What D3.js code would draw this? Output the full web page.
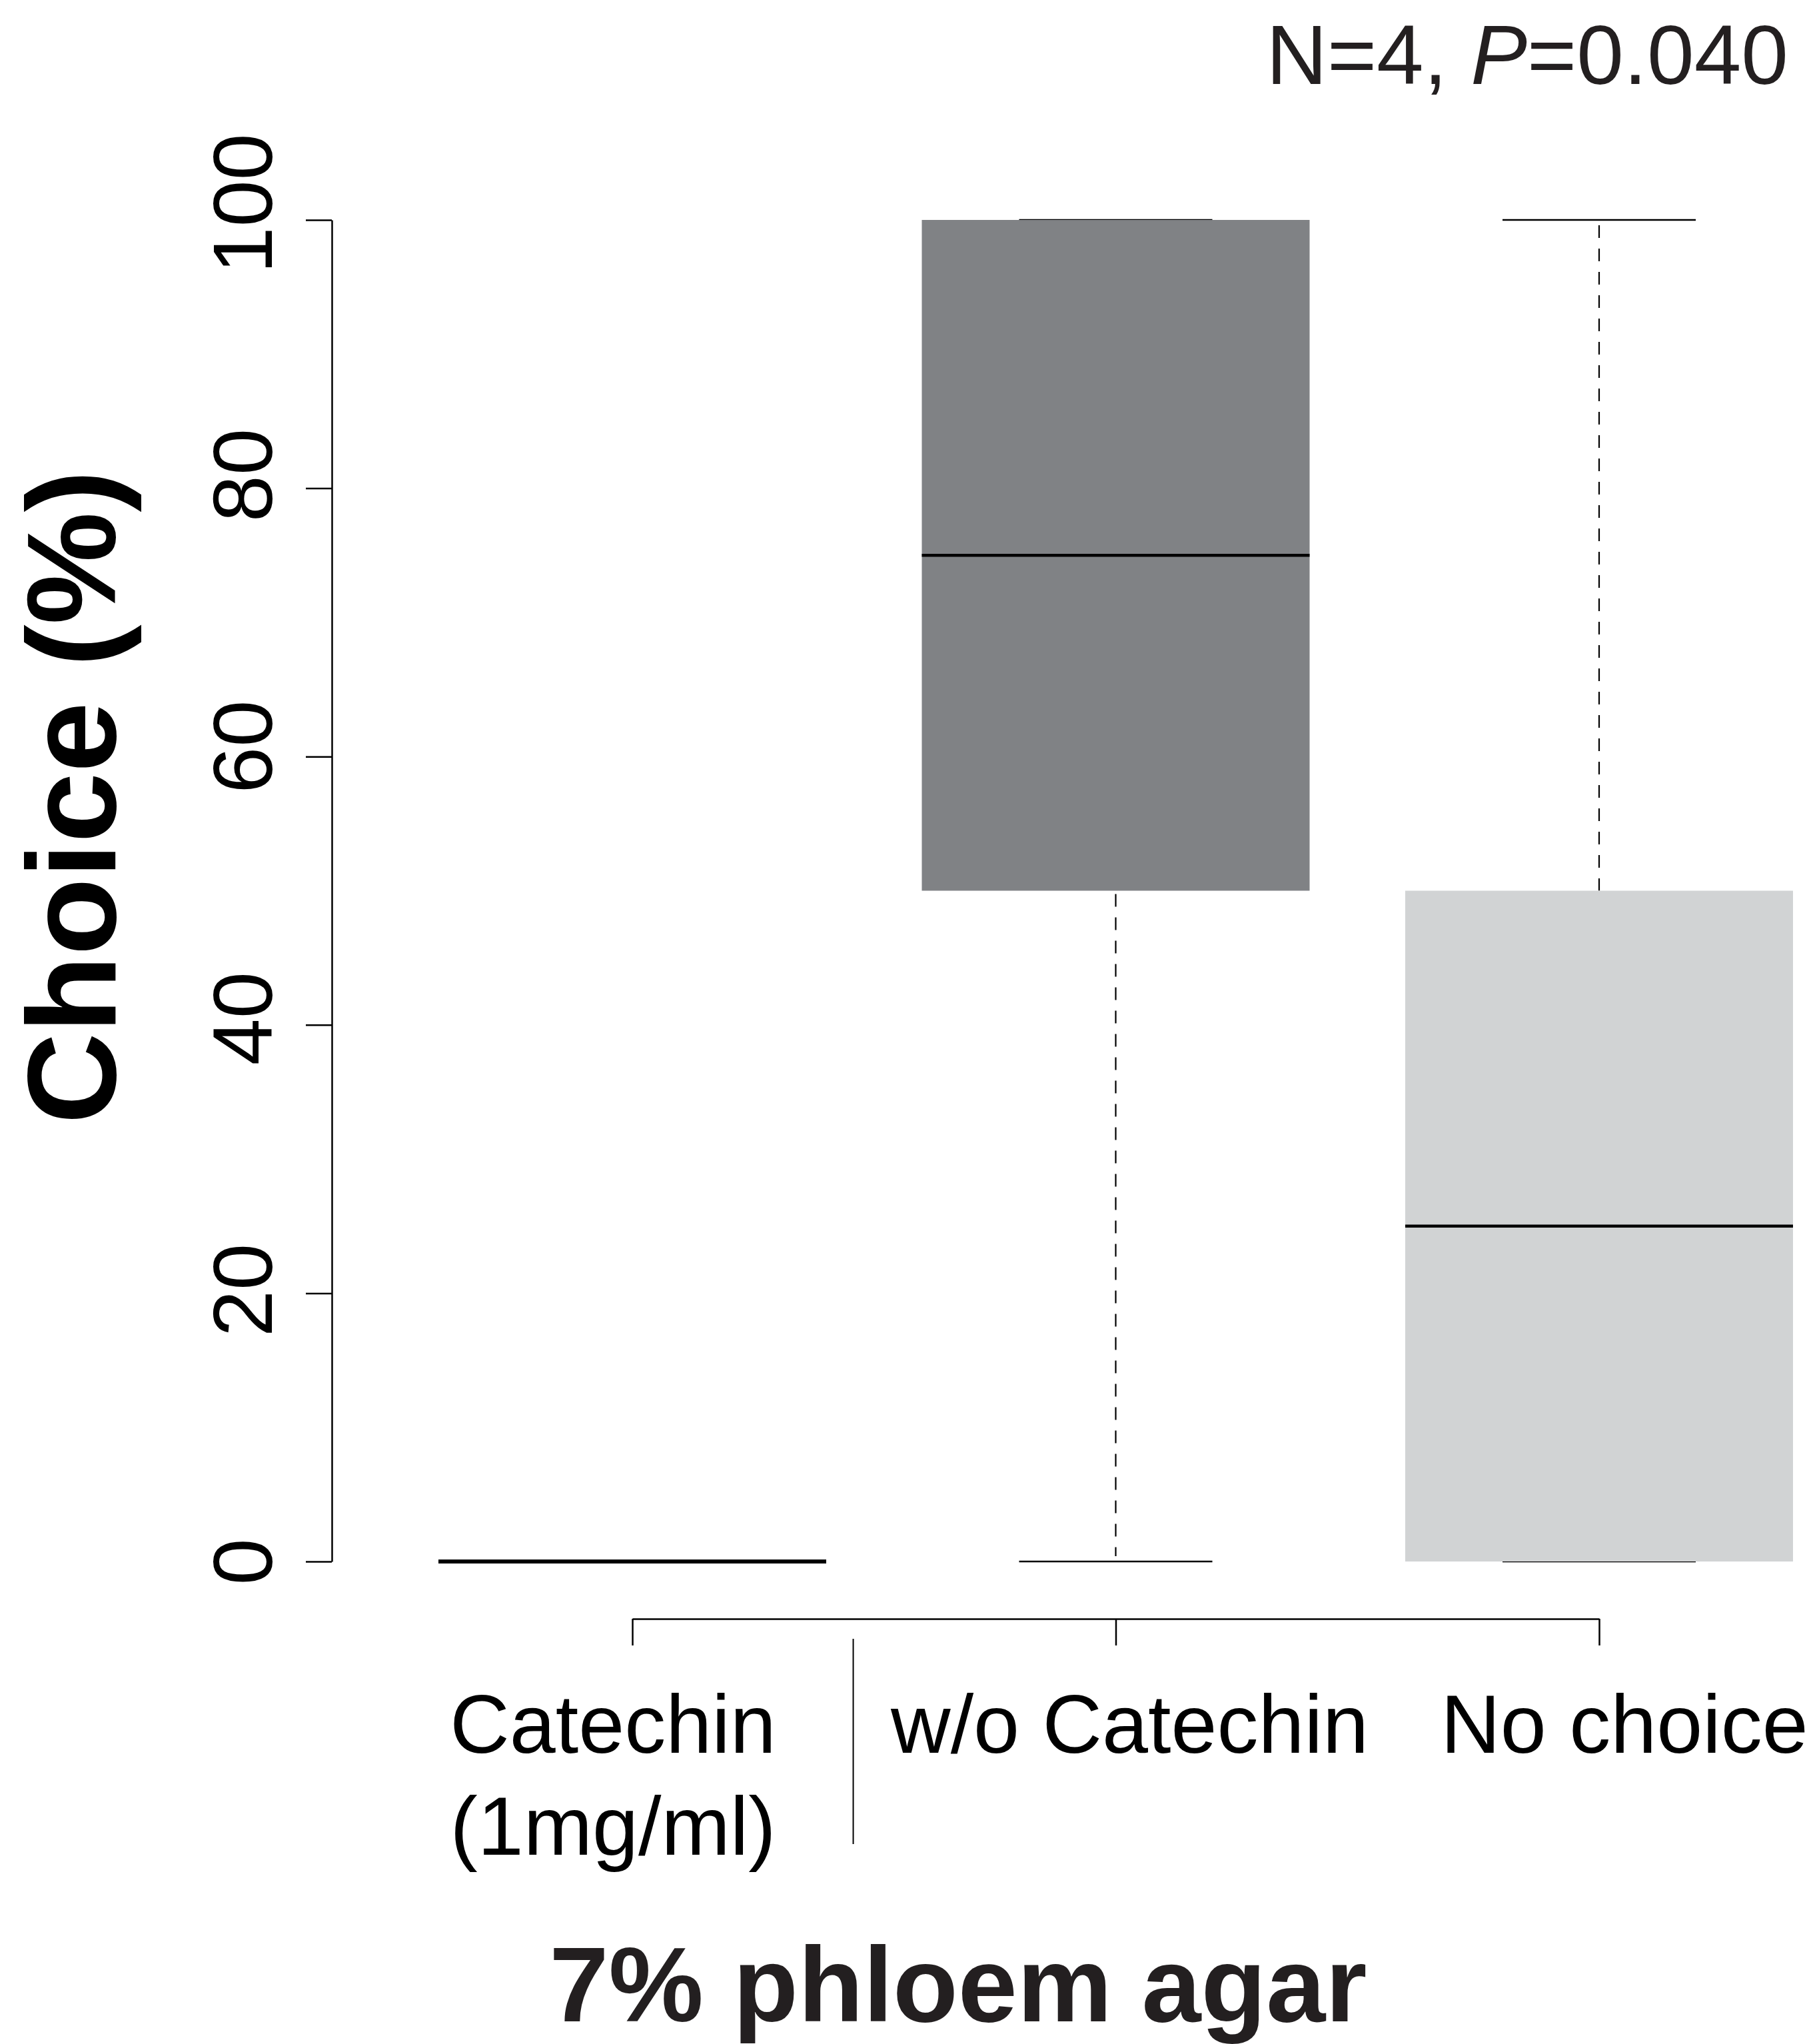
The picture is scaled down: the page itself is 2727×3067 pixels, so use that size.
<!DOCTYPE html>
<html>
<head>
<meta charset="utf-8">
<script src="https://cdn.jsdelivr.net/npm/d3@7"></script>
<style>
  html, body { margin: 0; padding: 0; background: #ffffff; }
  svg { display: block; }
  text { font-family: "Liberation Sans", Arial, Helvetica, sans-serif; fill: #231f20; }
</style>
</head>
<body>
<script>
// ---- data ----
const categories = ["Catechin (1mg/ml)", "w/o Catechin", "No choice"];
const labelLines = [["Catechin", "(1mg/ml)"], ["w/o Catechin"], ["No choice"]];
const whiskerLow = [0, 0, 0];
const q1 = [0, 50, 0];
const median = [0, 75, 25];
const q3 = [0, 100, 50];
const whiskerHigh = [0, 100, 100];
const yTicks = [0, 20, 40, 60, 80, 100];
const yTitle = "Choice (%)";
const xTitle = "7% phloem agar";

// ---- layout ----
const W = 2727, H = 3067;
const fills = ["#808285", "#808285", "#d1d3d4"];
const labelNudge = [-29, 21, 38];

const svg = d3.select("body").append("svg")
  .attr("width", W).attr("height", H)
  .attr("viewBox", `0 0 ${W} ${H}`);

const y = d3.scaleLinear().domain([0, 100]).range([2343, 330]);
const x = d3.scalePoint().domain(categories).range([949, 2400]);
const boxW = 582, capW = 290;

// y axis
const yAxis = d3.axisLeft(y).tickValues(yTicks).tickSize(39).tickSizeOuter(0).tickPadding(0);
const gy = svg.append("g").attr("transform", "translate(498,0)").call(yAxis);
gy.select(".domain").attr("stroke", "#000").attr("stroke-width", 2.5);
gy.selectAll(".tick line").attr("stroke", "#000").attr("stroke-width", 2.5);
gy.selectAll(".tick text")
  .attr("x", null).attr("dy", null).attr("y", null)
  .attr("transform", d => `translate(-90,${-d * 0.25}) rotate(-90)`)
  .attr("text-anchor", "middle")
  .style("font-family", '"Liberation Sans", Arial, sans-serif')
  .style("font-size", "126px")
  .style("fill", "#000");

// x axis
const xAxis = d3.axisBottom(x).tickSize(40).tickSizeOuter(0).tickFormat("");
const gx = svg.append("g").attr("transform", "translate(0,2429)").call(xAxis);
gx.select(".domain").attr("stroke", "#000").attr("stroke-width", 2.5);
gx.selectAll(".tick line").attr("stroke", "#000").attr("stroke-width", 2.5);

// separator line between first and second category labels
const step = x.step();
svg.append("line")
  .attr("x1", x(categories[0]) + step * 0.457).attr("x2", x(categories[0]) + step * 0.457)
  .attr("y1", 2459).attr("y2", 2767)
  .attr("stroke", "#000").attr("stroke-width", 2);

// x labels
categories.forEach((c, i) => {
  const t = svg.append("text")
    .attr("text-anchor", "middle")
    .style("font-size", "124px")
    .style("fill", "#000");
  labelLines[i].forEach((ln, j) => {
    t.append("tspan")
      .attr("x", x(c) + labelNudge[i])
      .attr("y", 2630 + j * 153)
      .text(ln);
  });
});

// boxes
const boxes = svg.append("g");
categories.forEach((c, i) => {
  const cx = x(c);
  const g = boxes.append("g");
  // staples (caps)
  [whiskerLow[i], whiskerHigh[i]].forEach(v => {
    g.append("line")
      .attr("x1", cx - capW / 2).attr("x2", cx + capW / 2)
      .attr("y1", y(v)).attr("y2", y(v))
      .attr("stroke", "#000").attr("stroke-width", 2.5);
  });
  // whiskers (dashed)
  if (whiskerHigh[i] > q3[i]) {
    g.append("line")
      .attr("x1", cx).attr("x2", cx)
      .attr("y1", y(whiskerHigh[i]) + 8).attr("y2", y(q3[i]))
      .attr("stroke", "#000").attr("stroke-width", 2.2)
      .attr("stroke-dasharray", "19,16");
  }
  if (whiskerLow[i] < q1[i]) {
    g.append("line")
      .attr("x1", cx).attr("x2", cx)
      .attr("y1", y(q1[i]) + 5).attr("y2", y(whiskerLow[i]) - 8)
      .attr("stroke", "#000").attr("stroke-width", 2.2)
      .attr("stroke-dasharray", "19,16");
  }
  // box
  if (q3[i] > q1[i]) {
    g.append("rect")
      .attr("x", cx - boxW / 2).attr("width", boxW)
      .attr("y", y(q3[i])).attr("height", y(q1[i]) - y(q3[i]))
      .attr("fill", fills[i]);
  }
  // median
  g.append("line")
    .attr("x1", cx - boxW / 2).attr("x2", cx + boxW / 2)
    .attr("y1", y(median[i])).attr("y2", y(median[i]))
    .attr("stroke", "#000").attr("stroke-width", q3[i] > q1[i] ? 4.5 : 6);
});

// y title
svg.append("text")
  .attr("transform", "translate(173,1196) rotate(-90)")
  .attr("text-anchor", "middle")
  .style("font-size", "190px")
  .style("font-weight", "bold")
  .style("fill", "#000")
  .text(yTitle);

// x title
svg.append("text")
  .attr("x", 1438).attr("y", 3033)
  .attr("text-anchor", "middle")
  .style("font-size", "160px")
  .style("font-weight", "bold")
  .text(xTitle);

// annotation
const ann = svg.append("text")
  .attr("x", 2684).attr("y", 126)
  .attr("text-anchor", "end")
  .style("font-size", "127px");
ann.append("tspan").text("N=4, ");
ann.append("tspan").style("font-style", "italic").text("P");
ann.append("tspan").text("=0.040");
</script>
</body>
</html>
